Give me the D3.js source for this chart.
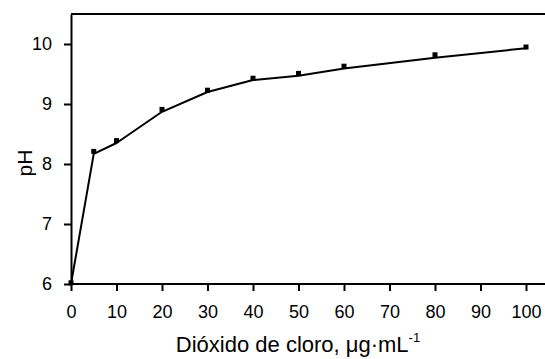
<!DOCTYPE html>
<html>
<head>
<meta charset="utf-8">
<script src="https://cdn.jsdelivr.net/npm/d3@7"></script>
<style>
    body { margin: 0; background: #fff; }
    svg { display: block; font-family: "Liberation Sans", Arial, sans-serif; }
</style>
</head>
<body>
<div id="chart"></div>
<script>
// measured points
const dose = [0, 5, 10, 20, 30, 40, 50, 60, 80, 100];
const phMeasured = [6.02, 8.21, 8.39, 8.91, 9.23, 9.43, 9.51, 9.63, 9.82, 9.95];
// fitted curve drawn through the points
const phFit = [6.0, 8.17, 8.35, 8.87, 9.2, 9.4, 9.47, 9.59, 9.77, 9.93];
const xTicks = [0, 10, 20, 30, 40, 50, 60, 70, 80, 90, 100];
const yTicks = [6, 7, 8, 9, 10];

(function() {
    const width = 545, height = 359;
    const left = 71, top = 14, bottom = 284;

    const x = d3.scaleLinear().domain([0, 100]).range([left, 526]);
    const y = d3.scaleLinear().domain([6, 10.5]).range([bottom, top]);

    const svg = d3.select("#chart").append("svg")
            .attr("width", width)
            .attr("height", height);

    // top border
    svg.append("line")
            .attr("x1", left).attr("x2", width)
            .attr("y1", top).attr("y2", top)
            .attr("stroke", "#000")
            .attr("stroke-width", 2);

    const xAxis = svg.append("g")
            .attr("transform", "translate(0," + bottom + ")")
            .call(d3.axisBottom(x).tickValues(xTicks).tickFormat(d3.format("d"))
                    .tickSize(7).tickPadding(14).tickSizeOuter(0));
    xAxis.select(".domain").attr("d", "M" + left + ",0H" + width);

    svg.append("g")
            .attr("transform", "translate(" + left + ",0)")
            .call(d3.axisLeft(y).tickValues(yTicks).tickFormat(d3.format("d"))
                    .tickSize(7).tickPadding(12).tickSizeOuter(0));

    svg.selectAll(".domain").attr("stroke-width", 2);
    svg.selectAll(".tick line").attr("stroke-width", 2);
    svg.selectAll(".tick text")
            .attr("font-size", 18)
            .attr("font-family", "Liberation Sans, Arial, sans-serif")
            .attr("fill", "#000");

    const line = d3.line()
            .x(function(d, i) { return x(dose[i]); })
            .y(function(d) { return y(d); });

    svg.append("path")
            .datum(phFit)
            .attr("d", line)
            .attr("fill", "none")
            .attr("stroke", "#000")
            .attr("stroke-width", 2)
            .attr("stroke-linejoin", "round");

    const sq = 5;
    svg.selectAll("rect.pt")
            .data(phMeasured)
            .enter().append("rect")
            .attr("class", "pt")
            .attr("x", function(d, i) { return x(dose[i]) - sq / 2; })
            .attr("y", function(d) { return y(d) - sq / 2; })
            .attr("width", sq)
            .attr("height", sq)
            .attr("fill", "#000");

    const title = svg.append("text")
            .attr("x", 298)
            .attr("y", 352)
            .attr("text-anchor", "middle")
            .attr("font-size", 22)
            .attr("fill", "#000");
    title.append("tspan").text("Dióxido de cloro, μg·mL");
    title.append("tspan")
            .attr("font-size", 13)
            .attr("dy", -10)
            .text("-1");

    svg.append("text")
            .attr("transform", "translate(32,163) rotate(-90)")
            .attr("text-anchor", "middle")
            .attr("font-size", 21)
            .attr("fill", "#000")
            .text("pH");
})();
</script>
</body>
</html>
